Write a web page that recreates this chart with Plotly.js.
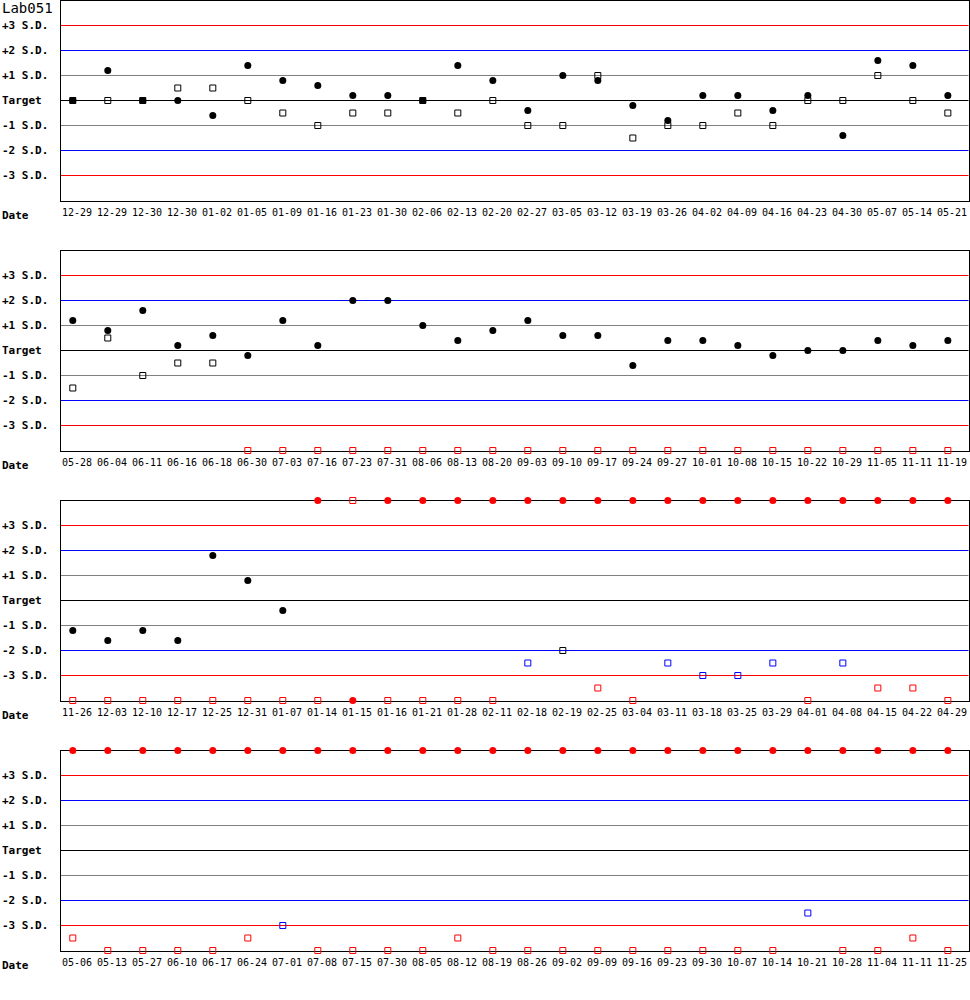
<!DOCTYPE html>
<html>
<head>
<meta charset="utf-8">
<script src="https://cdn.plot.ly/plotly-3.0.1.min.js"></script>
<style>
  html, body { margin: 0; padding: 0; background: #fff; }
  #plotDiv { width: 970px; height: 1000px; }
</style>
</head>
<body>
<div id="plotDiv"></div>
<script>
// control levels, in standard deviations from target
var sdLevels = [3, 2, 1, 0, -1, -2, -3];
var sdLabels = ['+3 S.D.', '+2 S.D.', '+1 S.D.', 'Target', '-1 S.D.', '-2 S.D.', '-3 S.D.'];
var sdColors = ['#ff0000', '#0000ff', '#808080', '#000000', '#808080', '#0000ff', '#ff0000'];

// values past +/-4 S.D. are shown on the chart edge, so they are kept as +/-4
var dates1 = ['12-29', '12-29', '12-30', '12-30', '01-02', '01-05', '01-09', '01-16', '01-23', '01-30', '02-06', '02-13', '02-20',
  '02-27', '03-05', '03-12', '03-19', '03-26', '04-02', '04-09', '04-16', '04-23', '04-30', '05-07', '05-14', '05-21'];
var circ1 = [0, 1.2, 0, 0, -0.6, 1.4, 0.8, 0.6, 0.2, 0.2, 0, 1.4, 0.8, -0.4, 1.0, 0.8, -0.2, -0.8, 0.2, 0.2, -0.4, 0.2, -1.4, 1.6, 1.4, 0.2];
var sq1 = [0, 0, 0, 0.5, 0.5, 0, -0.5, -1.0, -0.5, -0.5, 0, -0.5, 0, -1.0, -1.0, 1.0, -1.5, -1.0, -1.0, -0.5, -1.0, 0, 0, 1.0, 0, -0.5];

var dates2 = ['05-28', '06-04', '06-11', '06-16', '06-18', '06-30', '07-03', '07-16', '07-23', '07-31', '08-06', '08-13', '08-20',
  '09-03', '09-10', '09-17', '09-24', '09-27', '10-01', '10-08', '10-15', '10-22', '10-29', '11-05', '11-11', '11-19'];
var circ2 = [1.2, 0.8, 1.6, 0.2, 0.6, -0.2, 1.2, 0.2, 2.0, 2.0, 1.0, 0.4, 0.8, 1.2, 0.6, 0.6, -0.6, 0.4, 0.4, 0.2, -0.2, 0, 0, 0.4, 0.2, 0.4];
var sq2 = [-1.5, 0.5, -1.0, -0.5, -0.5, -4, -4, -4, -4, -4, -4, -4, -4, -4, -4, -4, -4, -4, -4, -4, -4, -4, -4, -4, -4, -4];

var dates3 = ['11-26', '12-03', '12-10', '12-17', '12-25', '12-31', '01-07', '01-14', '01-15', '01-16', '01-21', '01-28', '02-11',
  '02-18', '02-19', '02-25', '03-04', '03-11', '03-18', '03-25', '03-29', '04-01', '04-08', '04-15', '04-22', '04-29'];
var circ3 = [-1.2, -1.6, -1.2, -1.6, 1.8, 0.8, -0.4, 4, -4, 4, 4, 4, 4, 4, 4, 4, 4, 4, 4, 4, 4, 4, 4, 4, 4, 4];
var sq3 = [-4, -4, -4, -4, -4, -4, -4, -4, 4, -4, -4, -4, -4, -2.5, -2.0, -3.5, -4, -2.5, -3.0, -3.0, -2.5, -4, -2.5, -3.5, -3.5, -4];

var dates4 = ['05-06', '05-13', '05-27', '06-10', '06-17', '06-24', '07-01', '07-08', '07-15', '07-30', '08-05', '08-12', '08-19',
  '08-26', '09-02', '09-09', '09-16', '09-23', '09-30', '10-07', '10-14', '10-21', '10-28', '11-04', '11-11', '11-25'];
var circ4 = [4, 4, 4, 4, 4, 4, 4, 4, 4, 4, 4, 4, 4, 4, 4, 4, 4, 4, 4, 4, 4, 4, 4, 4, 4, 4];
var sq4 = [-3.5, -4, -4, -4, -4, -3.5, -3.0, -4, -4, -4, -4, -3.5, -4, -4, -4, -4, -4, -4, -4, -4, -4, -2.5, -4, -4, -3.5, -4];

var panels = [
  { dates: dates1, circ: circ1, sq: sq1 },
  { dates: dates2, circ: circ2, sq: sq2 },
  { dates: dates3, circ: circ3, sq: sq3 },
  { dates: dates4, circ: circ4, sq: sq4 }
];

function colorOf(v) {
  var a = Math.abs(v);
  if (a <= 2) return '#000000';
  if (a <= 3) return '#0000ff';
  return '#ff0000';
}

var W = 970, H = 1000;
var mono = 'DejaVu Sans Mono, Liberation Mono, monospace';
var data = [];
var layout = {
  width: W,
  height: H,
  margin: { t: 0, b: 0, l: 0, r: 0 },
  paper_bgcolor: '#fff',
  plot_bgcolor: '#fff',
  showlegend: false,
  shapes: [],
  annotations: [
    { text: 'Lab051', xref: 'paper', yref: 'paper', x: 0, y: 1 - 8 / H, xanchor: 'left', yanchor: 'middle',
      showarrow: false, font: { family: mono, size: 14, color: '#000' } }
  ]
};

panels.forEach(function (p, k) {
  var sfx = k === 0 ? '' : String(k + 1);
  var xa = 'x' + sfx, ya = 'y' + sfx;
  // half-pixel offset keeps the 1px level lines sharp
  var top = 250 * k + 0.5, bottom = 250 * k + 200.5;
  var idx = p.dates.map(function (d, i) { return i; });

  data.push({
    type: 'scatter', mode: 'markers', xaxis: xa, yaxis: ya, cliponaxis: false, hoverinfo: 'skip',
    x: idx, y: p.sq,
    marker: {
      symbol: p.sq.map(function (v, i) { return v === p.circ[i] ? 'square' : 'square-open'; }),
      size: 6,
      color: p.sq.map(colorOf),
      line: { width: 1, color: p.sq.map(colorOf) }
    }
  });
  data.push({
    type: 'scatter', mode: 'markers', xaxis: xa, yaxis: ya, cliponaxis: false, hoverinfo: 'skip',
    x: idx, y: p.circ,
    marker: { symbol: 'circle', size: 7, color: p.circ.map(colorOf), line: { width: 0 } }
  });

  layout['xaxis' + sfx] = {
    domain: [60.5 / W, 968.5 / W],
    anchor: ya,
    range: [-0.351, 25.59],
    tickvals: idx.map(function (i) { return i + 0.12; }),
    ticktext: p.dates,
    ticks: '',
    showgrid: false,
    zeroline: false,
    showline: true,
    mirror: true,
    linecolor: '#000',
    linewidth: 1,
    layer: 'below traces',
    tickfont: { family: mono, size: 10, color: '#000' },
    ticklabelstandoff: 2,
    fixedrange: true
  };
  layout['yaxis' + sfx] = {
    domain: [1 - bottom / H, 1 - top / H],
    anchor: xa,
    range: [-4, 4],
    showticklabels: false,
    ticks: '',
    showgrid: false,
    zeroline: false,
    showline: true,
    mirror: true,
    linecolor: '#000',
    linewidth: 1,
    layer: 'below traces',
    fixedrange: true
  };

  sdLevels.forEach(function (lv, j) {
    layout.shapes.push({
      type: 'line', xref: xa + ' domain', yref: ya, x0: 0, x1: 1, y0: lv, y1: lv,
      line: { color: sdColors[j], width: 1 }, layer: 'below'
    });
    layout.annotations.push({
      text: sdLabels[j], xref: 'paper', yref: ya, x: 0, y: lv, xanchor: 'left', yanchor: 'middle',
      showarrow: false, font: { family: mono, size: 11, color: '#000', weight: 'bold' }
    });
  });
  layout.annotations.push({
    text: 'Date', xref: 'paper', yref: 'paper', x: 0, y: 1 - (bottom + 15) / H, xanchor: 'left', yanchor: 'middle',
    showarrow: false, font: { family: mono, size: 11, color: '#000', weight: 'bold' }
  });
});

Plotly.newPlot('plotDiv', data, layout, { displayModeBar: false, staticPlot: true });
</script>
</body>
</html>
